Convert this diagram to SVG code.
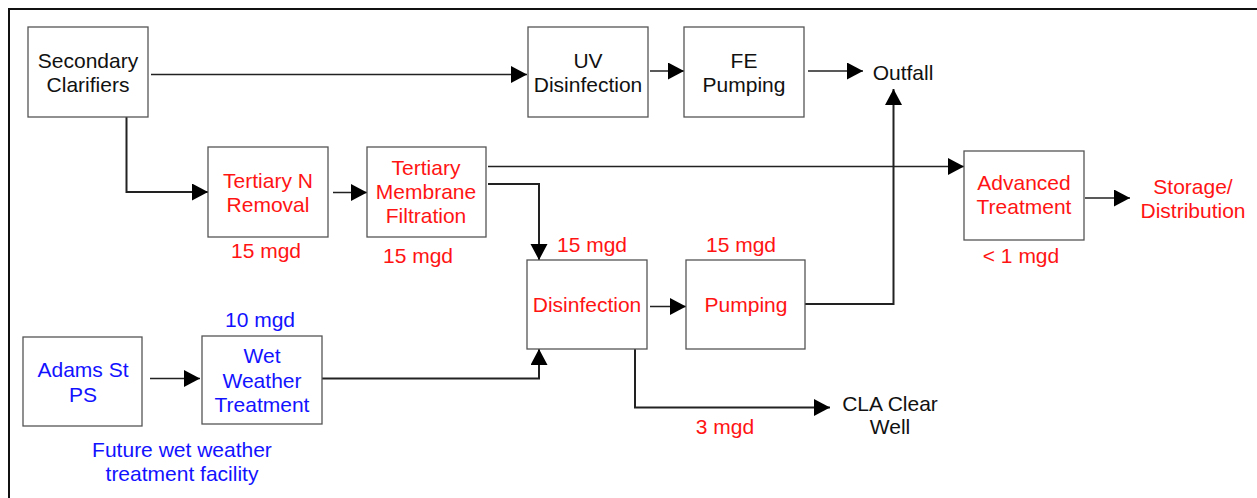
<svg xmlns="http://www.w3.org/2000/svg" width="1257" height="498" viewBox="0 0 1257 498">
<style>
.box{fill:#fff;stroke:#555;stroke-width:1.3}
.t{font-family:"Liberation Sans",Arial,sans-serif;font-size:21px;text-anchor:middle}
.k{fill:#111}.r{fill:#ff1414}.b{fill:#1212ff}
.c{fill:none;stroke:#222;stroke-width:1.4}
.c2{fill:none;stroke:#222;stroke-width:2}
</style>
<defs>
<marker id="ah" markerUnits="userSpaceOnUse" markerWidth="16" markerHeight="18" refX="16" refY="8.5" orient="auto">
<path d="M0,0 L16,8.5 L0,17 Z" fill="#000"/>
</marker>
</defs>
<rect x="0" y="0" width="1257" height="498" fill="#fff"/>
<rect x="9" y="9" width="1260" height="500" fill="none" stroke="#111" stroke-width="2"/>
<g id="connectors">
<path class="c" d="M151,74.5 H527" marker-end="url(#ah)"/>
<path class="c" d="M650,71 H684" marker-end="url(#ah)"/>
<path class="c" d="M808,71 H863" marker-end="url(#ah)"/>
<path class="c2" d="M126.5,117 V192 H208" marker-end="url(#ah)"/>
<path class="c" d="M333,192.5 H367" marker-end="url(#ah)"/>
<path class="c" d="M488,166.5 H964" marker-end="url(#ah)"/>
<path class="c2" d="M488,184 H539 V260" marker-end="url(#ah)"/>
<path class="c" d="M1085,198 H1130" marker-end="url(#ah)"/>
<path class="c" d="M650,306.5 H686" marker-end="url(#ah)"/>
<path class="c2" d="M805,304 H893.5 V89" marker-end="url(#ah)"/>
<path class="c" d="M150,378.5 H200" marker-end="url(#ah)"/>
<path class="c2" d="M322,378.5 H539 V349" marker-end="url(#ah)"/>
<path class="c2" d="M635,349 V407.5 H830" marker-end="url(#ah)"/>
</g>
<g id="secondary-clarifiers">
<rect class="box" x="28" y="27" width="120" height="90"/>
<text class="t k" x="88" y="68">Secondary</text>
<text class="t k" x="88" y="92">Clarifiers</text>
</g>
<g id="uv-disinfection">
<rect class="box" x="528" y="27" width="120" height="90"/>
<text class="t k" x="588" y="68">UV</text>
<text class="t k" x="588" y="92">Disinfection</text>
</g>
<g id="fe-pumping">
<rect class="box" x="684" y="27" width="120" height="90"/>
<text class="t k" x="744" y="68">FE</text>
<text class="t k" x="744" y="92">Pumping</text>
</g>
<g id="outfall">
<text class="t k" x="903" y="80">Outfall</text>
</g>
<g id="tertiary-n-removal">
<rect class="box" x="208" y="147" width="120" height="90"/>
<text class="t r" x="268" y="188">Tertiary N</text>
<text class="t r" x="268" y="212">Removal</text>
<text class="t r" x="266" y="258">15 mgd</text>
</g>
<g id="tertiary-membrane-filtration">
<rect class="box" x="367" y="147" width="119" height="90"/>
<text class="t r" x="426" y="175">Tertiary</text>
<text class="t r" x="426" y="199">Membrane</text>
<text class="t r" x="426" y="223">Filtration</text>
<text class="t r" x="418" y="263">15 mgd</text>
</g>
<g id="advanced-treatment">
<rect class="box" x="964" y="151" width="120" height="89"/>
<text class="t r" x="1024" y="190">Advanced</text>
<text class="t r" x="1024" y="214">Treatment</text>
<text class="t r" x="1021" y="263">&lt; 1 mgd</text>
</g>
<g id="storage-distribution">
<text class="t r" x="1193" y="194">Storage/</text>
<text class="t r" x="1193" y="218">Distribution</text>
</g>
<g id="disinfection">
<rect class="box" x="527" y="260" width="120" height="89"/>
<text class="t r" x="587" y="312">Disinfection</text>
<text class="t r" x="592" y="252">15 mgd</text>
</g>
<g id="pumping">
<rect class="box" x="686" y="260" width="119" height="89"/>
<text class="t r" x="746" y="312">Pumping</text>
<text class="t r" x="741" y="252">15 mgd</text>
</g>
<g id="cla-clear-well">
<text class="t k" x="890" y="411">CLA Clear</text>
<text class="t k" x="890" y="434">Well</text>
<text class="t r" x="725" y="434">3 mgd</text>
</g>
<g id="adams-st-ps">
<rect class="box" x="23" y="337" width="119" height="89"/>
<text class="t b" x="83" y="377">Adams St</text>
<text class="t b" x="83" y="402">PS</text>
</g>
<g id="wet-weather-treatment">
<rect class="box" x="202" y="336" width="120" height="88"/>
<text class="t b" x="262" y="363">Wet</text>
<text class="t b" x="262" y="388">Weather</text>
<text class="t b" x="262" y="412">Treatment</text>
<text class="t b" x="260" y="327">10 mgd</text>
</g>
<g id="future-note">
<text class="t b" x="182" y="457">Future wet weather</text>
<text class="t b" x="182" y="481">treatment facility</text>
</g>
</svg>
